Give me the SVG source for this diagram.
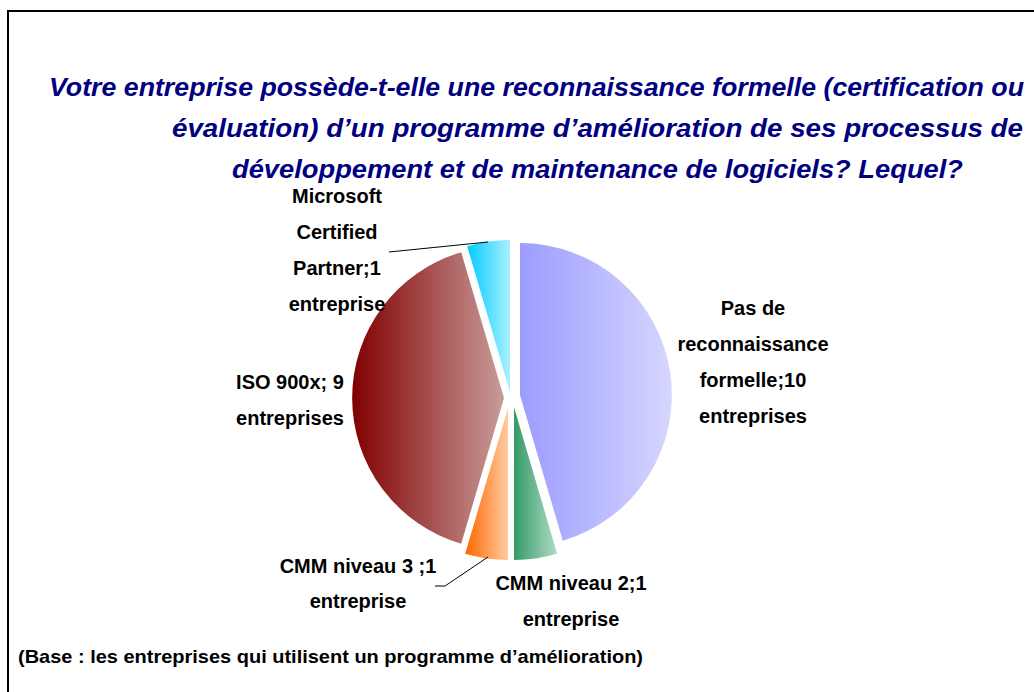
<svg xmlns="http://www.w3.org/2000/svg" width="1034" height="692" viewBox="0 0 1034 692">
<style>
.title{font-family:"Liberation Sans",Arial,sans-serif;font-weight:bold;font-style:italic;font-size:26px;fill:#000080}
.lbl{font-family:"Liberation Sans",Arial,sans-serif;font-weight:bold;font-size:20px;fill:#000;text-anchor:middle}
.foot{font-family:"Liberation Sans",Arial,sans-serif;font-weight:bold;font-size:19px;fill:#000}
.lead{fill:none;stroke:#000;stroke-width:1}
</style>
<defs>
<linearGradient id="gBlue" x1="0" y1="0" x2="1" y2="0"><stop offset="0" stop-color="#9C9CFF"/><stop offset="1" stop-color="#D6D6FF"/></linearGradient>
<linearGradient id="gGreen" x1="0" y1="0" x2="1" y2="0"><stop offset="0" stop-color="#339966"/><stop offset="1" stop-color="#B0DCC6"/></linearGradient>
<linearGradient id="gOrange" x1="0" y1="0" x2="1" y2="0"><stop offset="0" stop-color="#FF6600"/><stop offset="1" stop-color="#FFCCA0"/></linearGradient>
<linearGradient id="gBrown" x1="0" y1="0" x2="1" y2="0"><stop offset="0" stop-color="#800000"/><stop offset="1" stop-color="#C89C9A"/></linearGradient>
<linearGradient id="gCyan" x1="0" y1="0" x2="1" y2="0"><stop offset="0" stop-color="#00CCFF"/><stop offset="1" stop-color="#A8F0FF"/></linearGradient>
</defs>
<rect x="0" y="0" width="1034" height="692" fill="#fff"/>
<rect x="8" y="11" width="1040" height="700" fill="none" stroke="#000" stroke-width="2"/>
<g id="title">
<text class="title" x="49" y="96" textLength="975" lengthAdjust="spacingAndGlyphs">Votre entreprise possède-t-elle une reconnaissance formelle (certification ou</text>
<text class="title" x="172" y="137" textLength="851" lengthAdjust="spacingAndGlyphs">évaluation) d’un programme d’amélioration de ses processus de</text>
<text class="title" x="232" y="178" textLength="731" lengthAdjust="spacingAndGlyphs">développement et de maintenance de logiciels? Lequel?</text>
</g>
<g id="slice-pas">
<path d="M520,395 L520,243 A152,152 0 0 1 562.8,540.8 Z" fill="url(#gBlue)"/>
</g>
<g id="slice-cmm2">
<path d="M514,407 L557.1,553.8 A153,153 0 0 1 514,560 Z" fill="url(#gGreen)"/>
</g>
<g id="slice-cmm3">
<path d="M508,408 L508,560 A152,152 0 0 1 465.2,553.8 Z" fill="url(#gOrange)"/>
</g>
<g id="slice-iso">
<path d="M504,398 L461.2,543.8 A152,152 0 0 1 461.2,252.2 Z" fill="url(#gBrown)"/>
</g>
<g id="slice-ms">
<path d="M510,392 L467.2,246.2 A152,152 0 0 1 510,240 Z" fill="url(#gCyan)"/>
</g>
<g id="connectors">
<polyline class="lead" points="389,252 488,242"/>
<polyline class="lead" points="435,586 445,586 488,557"/>
</g>
<g id="label-ms">
<text class="lbl" x="337" y="203">Microsoft</text>
<text class="lbl" x="337" y="239">Certified</text>
<text class="lbl" x="337" y="275">Partner;1</text>
<text class="lbl" x="337" y="311">entreprise</text>
</g>
<g id="label-pas">
<text class="lbl" x="753" y="315">Pas de</text>
<text class="lbl" x="753" y="351">reconnaissance</text>
<text class="lbl" x="753" y="387">formelle;10</text>
<text class="lbl" x="753" y="423">entreprises</text>
</g>
<g id="label-iso">
<text class="lbl" x="290" y="389">ISO 900x; 9</text>
<text class="lbl" x="290" y="425">entreprises</text>
</g>
<g id="label-cmm3">
<text class="lbl" x="358" y="573">CMM niveau 3 ;1</text>
<text class="lbl" x="358" y="608">entreprise</text>
</g>
<g id="label-cmm2">
<text class="lbl" x="571" y="590">CMM niveau 2;1</text>
<text class="lbl" x="571" y="626">entreprise</text>
</g>
<g id="footer">
<text class="foot" x="18" y="663" textLength="625" lengthAdjust="spacingAndGlyphs">(Base : les entreprises qui utilisent un programme d’amélioration)</text>
</g>
</svg>
